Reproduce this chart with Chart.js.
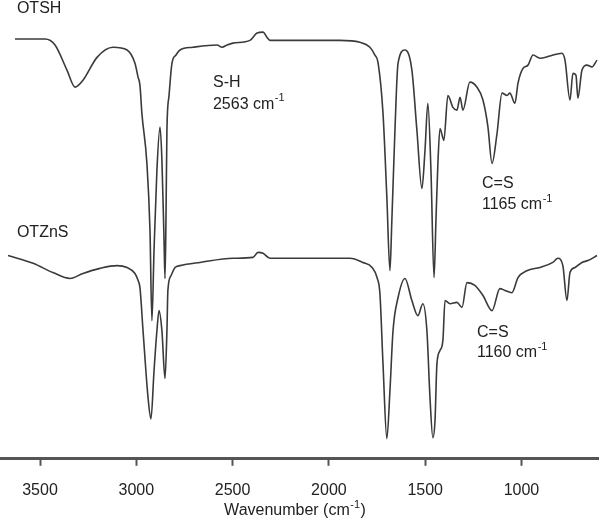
<!DOCTYPE html>
<html lang="en">
<head>
    <meta charset="UTF-8">
    <title>FTIR spectra OTSH / OTZnS</title>
    <script src="https://cdn.jsdelivr.net/npm/chart.js"></script>
    <style>
        html, body { margin: 0; padding: 0; background: #fff; }
        #wrap { width: 600px; height: 522px; }
    </style>
</head>
<body>
    <div id="wrap"><canvas id="irChart"></canvas></div>

    <script>
        // Wavenumbers (cm-1) and transmittance (a.u., offset traces)
        const otshWave = [3630, 3474, 3422, 3360, 3318, 3277, 3204, 3121, 3048, 3007, 2991, 2981, 2971, 2945, 2929,
            2919, 2908, 2893, 2877, 2867, 2856, 2851, 2846, 2841, 2830, 2815, 2794, 2773, 2706, 2581, 2555, 2529,
            2498, 2410, 2373, 2342, 2322, 2306, 2150, 1943, 1839, 1787, 1761, 1745, 1719, 1699, 1683, 1673, 1657,
            1641, 1605, 1569, 1543, 1517, 1501, 1486, 1470, 1454, 1444, 1434, 1423, 1403, 1382, 1356, 1335, 1319,
            1304, 1268, 1231, 1200, 1174, 1153, 1127, 1101, 1075, 1060, 1034, 1018, 992, 966, 940, 904, 852, 790,
            774, 748, 733, 717, 707, 686, 660, 634, 608];
        const otshT = [91.5, 91.5, 90.2, 84.7, 81.0, 82.5, 87.5, 89.7, 89.1, 86.2, 83.2, 81.4, 75.3, 64.4, 49.8,
            30.1, 45.4, 62.9, 72.3, 65.1, 47.6, 39.3, 52.0, 71.6, 79.2, 86.2, 88.0, 89.1, 89.7, 90.2, 89.7, 90.2,
            90.6, 91.2, 92.8, 93.0, 91.9, 91.2, 91.2, 91.2, 90.8, 89.7, 88.0, 86.4, 75.3, 57.0, 41.0, 52.0, 71.6,
            86.2, 89.1, 84.7, 71.6, 58.9, 67.2, 77.5, 62.9, 39.5, 52.0, 64.4, 72.0, 69.4, 79.2, 76.6, 76.0, 78.8,
            76.0, 82.1, 81.0, 78.2, 72.3, 64.4, 70.9, 79.7, 79.2, 79.7, 77.5, 81.9, 85.1, 85.8, 88.0, 87.3, 87.8, 88.4,
            86.9, 78.2, 84.0, 83.6, 78.6, 84.7, 85.8, 85.4, 86.9];

        const otznsWave = [3666, 3536, 3433, 3344, 3277, 3189, 3100, 3048, 3007, 2991, 2981, 2965, 2939, 2924, 2908,
            2893, 2882, 2867, 2851, 2841, 2836, 2820, 2799, 2773, 2669, 2498, 2394, 2368, 2342, 2306, 2150, 1891,
            1823, 1776, 1750, 1735, 1719, 1699, 1683, 1667, 1641, 1605, 1569, 1538, 1512, 1491, 1475, 1460, 1449,
            1439, 1423, 1408, 1397, 1371, 1335, 1309, 1283, 1242, 1200, 1153, 1112, 1086, 1050, 1018, 972, 904,
            837, 811, 785, 764, 748, 722, 686, 655, 608];
        const otznsT = [44.3, 42.6, 40.6, 39.3, 40.4, 41.5, 42.1, 41.7, 40.4, 38.9, 37.3, 27.9, 13.3, 8.7, 19.2,
            27.9, 32.3, 27.9, 17.5, 27.9, 36.7, 39.9, 41.7, 42.1, 42.8, 43.7, 43.9, 45.0, 44.8, 43.7, 43.7, 43.7,
            42.8, 41.7, 39.5, 36.0, 20.7, 4.4, 14.8, 27.9, 35.1, 39.3, 34.5, 31.2, 33.8, 27.9, 13.3, 4.6, 8.3,
            20.7, 23.6, 25.8, 34.5, 33.8, 34.1, 33.0, 38.4, 37.8, 35.6, 32.3, 37.1, 36.7, 36.2, 39.5, 41.0, 41.7,
            42.8, 43.7, 42.1, 34.5, 40.6, 41.7, 42.8, 43.2, 44.3];

        const tickValues = [3500, 3000, 2500, 2000, 1500, 1000];

        // text labels: [text, superscript, wavenumber, transmittance]
        const labels = [
            ['OTSH', '', 3620, 98.2],
            ['OTZnS', '', 3620, 49.2],
            ['S-H', '', 2602, 81.9],
            ['2563 cm', '-1', 2602, 77.3],
            ['C=S', '', 1205, 60.0],
            ['1165 cm', '-1', 1205, 55.4],
            ['C=S', '', 1231, 27.5],
            ['1160 cm', '-1', 1231, 23.1]
        ];

        const FONT = '"Liberation Sans", Arial, sans-serif';
        const INK = '#222';

        function toPoints(xs, ys) {
            return xs.map((x, i) => ({ x: x, y: ys[i] }));
        }

        // draws text with an optional raised superscript and optional tail text
        function drawSup(ctx, text, sup, tail, x, y, size, align) {
            const supSize = Math.round(size * 0.68);
            ctx.font = size + 'px ' + FONT;
            const w1 = ctx.measureText(text).width;
            const w3 = tail ? ctx.measureText(tail).width : 0;
            ctx.font = supSize + 'px ' + FONT;
            const w2 = sup ? ctx.measureText(sup).width + 1 : 0;
            const left = align === 'center' ? x - (w1 + w2 + w3) / 2 : x;
            ctx.textAlign = 'left';
            ctx.textBaseline = 'middle';
            ctx.font = size + 'px ' + FONT;
            ctx.fillText(text, left, y);
            if (tail) ctx.fillText(tail, left + w1 + w2, y);
            if (sup) {
                ctx.font = supSize + 'px ' + FONT;
                ctx.fillText(sup, left + w1 + 0.5, y - size * 0.36);
            }
        }

        const textPlugin = {
            id: 'irText',
            afterDraw(chart) {
                const ctx = chart.ctx;
                const xs = chart.scales.x, ys = chart.scales.y;
                ctx.save();
                ctx.fillStyle = INK;
                labels.forEach(l => {
                    drawSup(ctx, l[0], l[1], '', xs.getPixelForValue(l[2]), ys.getPixelForValue(l[3]), 16, 'left');
                });
                // axis title
                const a = chart.chartArea;
                drawSup(ctx, 'Wavenumber (cm', '-1', ')', (a.left + a.right) / 2 - 5, chart.height - 11, 16, 'center');
                ctx.restore();
            }
        };

        const ctx = document.getElementById('irChart').getContext('2d');
        const irChart = new Chart(ctx, {
            type: 'line',
            data: {
                datasets: [{
                    label: 'OTSH',
                    data: toPoints(otshWave, otshT),
                    borderColor: '#3a3a3a',
                    borderWidth: 1.6,
                    pointRadius: 0,
                    cubicInterpolationMode: 'monotone',
                    fill: false
                }, {
                    label: 'OTZnS',
                    data: toPoints(otznsWave, otznsT),
                    borderColor: '#3a3a3a',
                    borderWidth: 1.6,
                    pointRadius: 0,
                    cubicInterpolationMode: 'monotone',
                    fill: false
                }]
            },
            options: {
                responsive: true,
                maintainAspectRatio: false,
                animation: false,
                layout: { padding: { left: 1.5, right: 1.5, top: 0, bottom: 7 } },
                plugins: {
                    legend: { display: false },
                    tooltip: { enabled: false }
                },
                scales: {
                    x: {
                        type: 'linear',
                        reverse: true,
                        min: 600,
                        max: 3700,
                        afterBuildTicks: axis => {
                            axis.ticks = tickValues.map(v => ({ value: v }));
                        },
                        border: { display: true, color: '#555', width: 3 },
                        grid: {
                            drawOnChartArea: false,
                            drawTicks: true,
                            tickLength: 7,
                            tickWidth: 2,
                            tickColor: '#555'
                        },
                        ticks: {
                            padding: 15,
                            color: INK,
                            maxRotation: 0,
                            font: { family: FONT, size: 16 },
                            callback: v => String(v)
                        },
                        title: { display: false }
                    },
                    y: {
                        display: false,
                        min: 0,
                        max: 100
                    }
                }
            },
            plugins: [textPlugin]
        });
    </script>
</body>
</html>
